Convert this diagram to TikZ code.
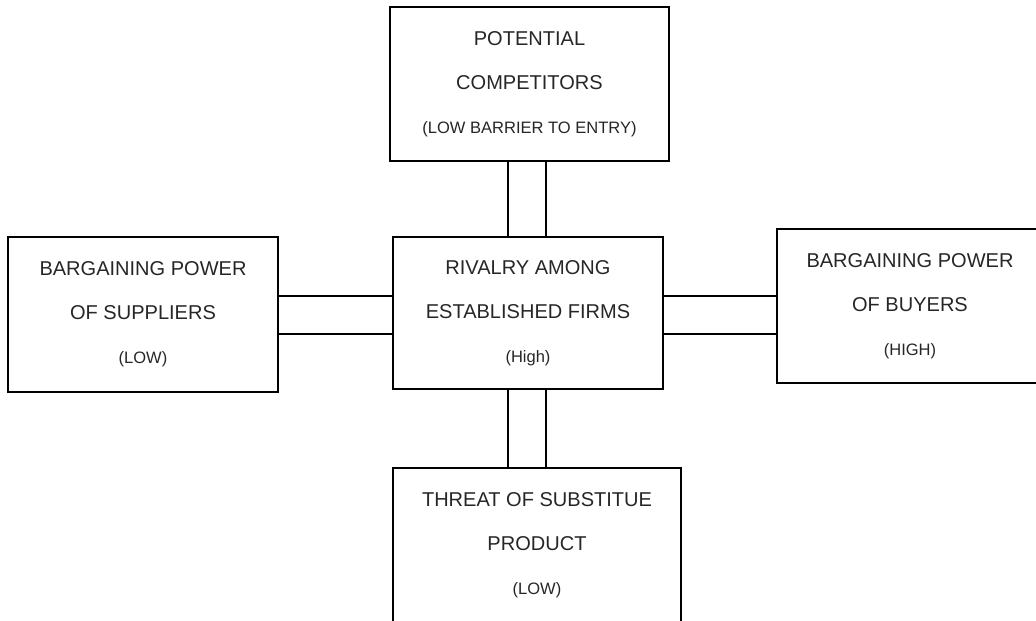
\documentclass[tikz,border=0pt]{standalone}
\usepackage{fontspec}
\setmainfont{Liberation Sans}
\newcommand{\ratetext}[1]{{\fontsize{9.4}{12}\selectfont #1}}
\begin{document}
\begin{tikzpicture}[
    x=0.02cm, y=-0.02cm,
    force/.style={rectangle, draw=black, line width=0.9pt, align=center,
        text=black!85, inner sep=0pt,
        font=\fontsize{11.4}{25}\selectfont},
    edge/.style={line width=0.9pt, -}
]
    \useasboundingbox (0,0) rectangle (1036,621);
    \clip (0,0) rectangle (1036,621);
    \node[force, minimum width=5.58cm, minimum height=3.08cm] (entrants) at (529.5,84)
        {POTENTIAL\\COMPETITORS\\\ratetext{(LOW BARRIER TO ENTRY)}};
    \node[force, minimum width=5.4cm, minimum height=3.04cm] (rivalry) at (528,313)
        {RIVALRY AMONG\\ESTABLISHED FIRMS\\\ratetext{(High)}};
    \node[force, minimum width=5.4cm, minimum height=3.1cm] (suppliers) at (143,314.5)
        {BARGAINING POWER\\OF SUPPLIERS\\\ratetext{(LOW)}};
    \node[force, minimum width=5.32cm, minimum height=3.08cm] (buyers) at (910,306)
        {BARGAINING POWER\\OF BUYERS\\\ratetext{(HIGH)}};
    \node[force, minimum width=5.76cm, minimum height=3.08cm] (substitutes) at (537,545)
        {THREAT OF SUBSTITUE\\PRODUCT\\\ratetext{(LOW)}};
    \draw[edge] ([xshift=-0.4cm]rivalry.north) -- ([xshift=-0.4cm]rivalry.north |- entrants.south);
    \draw[edge] ([xshift=0.36cm]rivalry.north) -- ([xshift=0.36cm]rivalry.north |- entrants.south);
    \draw[edge] ([xshift=-0.4cm]rivalry.south) -- ([xshift=-0.4cm]rivalry.south |- substitutes.north);
    \draw[edge] ([xshift=0.36cm]rivalry.south) -- ([xshift=0.36cm]rivalry.south |- substitutes.north);
    \draw[edge] ([yshift=0.34cm]rivalry.west) -- ([yshift=0.34cm]rivalry.west -| suppliers.east);
    \draw[edge] ([yshift=-0.42cm]rivalry.west) -- ([yshift=-0.42cm]rivalry.west -| suppliers.east);
    \draw[edge] ([yshift=0.34cm]rivalry.east) -- ([yshift=0.34cm]rivalry.east -| buyers.west);
    \draw[edge] ([yshift=-0.42cm]rivalry.east) -- ([yshift=-0.42cm]rivalry.east -| buyers.west);
\end{tikzpicture}
\end{document}
